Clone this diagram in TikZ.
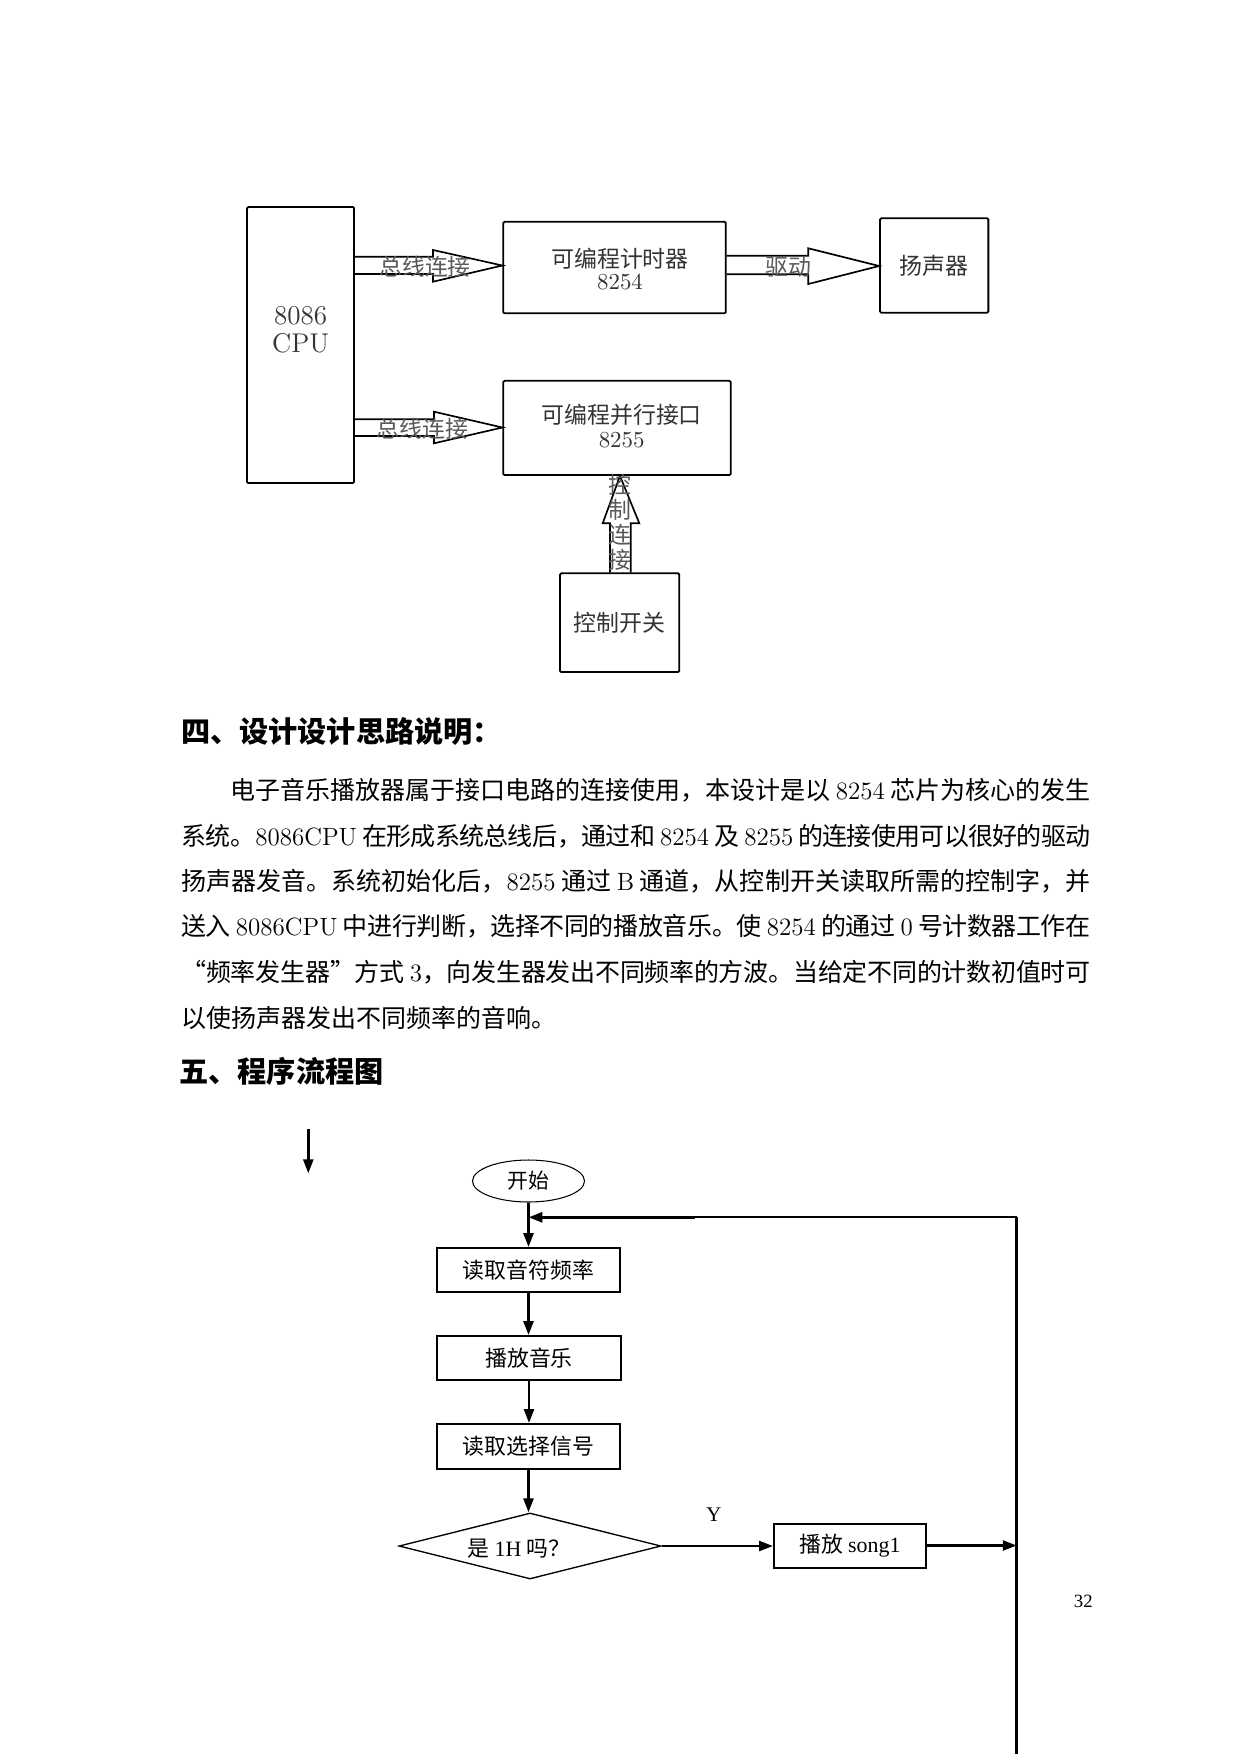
\documentclass[tikz,border=0pt]{standalone}
\usepackage{fontspec}
\setmainfont{Noto Sans CJK SC}
\newfontfamily\lat{Latin Modern Roman}
\newfontfamily\tms{Liberation Serif}
\usetikzlibrary{shapes.geometric,arrows.meta,calc}
\XeTeXlinebreaklocale "zh"
\XeTeXlinebreakskip=0pt plus 2pt minus 1.2pt
\newcommand\myline[4]{\node[anchor=west,inner sep=0pt,text width=#3,align=justify,font=\fontsize{12bp}{14bp}\selectfont] (#1) at (#2) {\noindent\tolerance=9999\parfillskip=0pt\relax #4\par};}
\tikzset{
  blk/.style={draw, line width=0.85bp, rounded corners=0.6bp, inner sep=0pt},
  fat/.style={draw, line width=0.8bp, line join=miter},
  boxtxt/.style={inner sep=0pt, text=black!80, align=center},
  lbl/.style={inner sep=0pt, text=black!65, font=\fontsize{11bp}{12bp}\selectfont},
  fbox/.style={draw, line width=0.96bp, minimum height=21.12bp, inner sep=0pt, font=\fontsize{10.5bp}{12bp}\selectfont},
  flow/.style={line width=1.2bp, -{Triangle[length=6.7bp,width=4.8bp]}},
  head/.style={anchor=west, inner sep=0pt, font=\fontsize{14bp}{16bp}\selectfont\bfseries}
}
\begin{document}
\begin{tikzpicture}[x=0.48bp,y=-0.48bp]
\useasboundingbox (0,0) rectangle (1241,1754);
\fill[white] (0,0) rectangle (1241,1754);

% ---------- block diagram ----------
\node[blk, minimum width=51.36bp, minimum height=132.48bp] (cpu) at (300.5,345) {};
\node[boxtxt, font=\fontsize{13bp}{13.4bp}\selectfont\lat] (cputxt) at (300.7,330) {8086\\CPU};
\node[blk, minimum width=106.75bp, minimum height=43.97bp] (timer) at (614.5,267.5) {};
\node[boxtxt, font=\fontsize{11bp}{10.6bp}\selectfont] (timertxt) at (620,269) {可编程计时器\\{\lat 8254}};
\node[blk, minimum width=52bp, minimum height=45.3bp, text=black!80, font=\fontsize{11bp}{12bp}\selectfont] (spk) at (934.2,265.5) {扬声器};
\node[blk, minimum width=109.15bp, minimum height=45.26bp] (ppi) at (617,427.9) {};
\node[boxtxt, font=\fontsize{11bp}{11.5bp}\selectfont] (ppitxt) at (621.7,426) {可编程并行接口\\{\lat 8255}};
\node[blk, minimum width=57.26bp, minimum height=47.38bp, text=black!80, font=\fontsize{11bp}{12bp}\selectfont] (sw) at (619.7,622.7) {控制开关};

\draw[fat] (cpu.east |- 0,256.7) -- (433,256.7) -- (433,250) -- (timer.west |- 0,265.5) -- (433,281.7) -- (433,274) -- (cpu.east |- 0,274);
\draw[fat] (cpu.east |- 0,419.3) -- (434,419.3) -- (434,411.7) -- (ppi.west |- 0,427.5) -- (434,443.3) -- (434,436) -- (cpu.east |- 0,436);
\draw[fat] (timer.east |- 0,255.7) -- (808.3,255.7) -- (808.3,248.3) -- (spk.west |- 0,266) -- (808.3,284) -- (808.3,274.3) -- (timer.east |- 0,274.3);
\draw[fat] (sw.north -| 610,0) -- (610,523.3) -- (602.7,523.3) -- (ppi.south -| 620,0) -- (639.3,523.3) -- (630.7,523.3) -- (sw.north -| 630.7,0);

\node[lbl] (l1) at (425,266.7) {总线连接};
\node[lbl] (l2) at (422.5,428.3) {总线连接};
\node[lbl] (l3) at (788,266.7) {驱动};
\node[lbl, align=center, font=\fontsize{11bp}{12bp}\selectfont] (l4) at (620,522.5) {控\\制\\连\\接};

% ---------- text ----------
\node[head] (h4) at (180.7,731.7) {四、设计设计思路说明：};
\myline{p1}{230,790}{412.8bp}{电子音乐播放器属于接口电路的连接使用，本设计是以 {\lat 8254} 芯片为核心的发生}
\myline{p2}{180.7,836}{436.5bp}{系统。{\lat 8086CPU} 在形成系统总线后，通过和 {\lat 8254} 及 {\lat 8255} 的连接使用可以很好的驱动}
\myline{p3}{180.7,881}{436.5bp}{扬声器发音。系统初始化后，{\lat 8255} 通过 {\lat B} 通道，从控制开关读取所需的控制字，并}
\myline{p4}{180.7,926.5}{436.5bp}{送入 {\lat 8086CPU} 中进行判断，选择不同的播放音乐。使 {\lat 8254} 的通过 {\lat 0} 号计数器工作在}
\myline{p5}{180.7,972}{436.5bp}{“频率发生器”方式 {\lat 3}，向发生器发出不同频率的方波。当给定不同的计数初值时可}
\node[anchor=west, inner sep=0pt, font=\fontsize{12bp}{14bp}\selectfont] (p6) at (180.7,1018) {以使扬声器发出不同频率的音响。};
\node[head] (h5) at (179,1071.7) {五、程序流程图};

% ---------- flowchart ----------
\coordinate (S1) at (308.3,1129.3);
\coordinate (S2) at (308.3,1173.3);
\draw[flow] (S1) -- (S2);

\node[draw, ellipse, line width=0.5bp, minimum width=53.76bp, minimum height=20.16bp, inner sep=0pt, font=\fontsize{10bp}{12bp}\selectfont] (start) at (528.5,1181) {开始};
\node[fbox, minimum width=87.84bp] (b1) at (528.5,1270) {读取音符频率};
\node[fbox, minimum width=88.3bp] (b2) at (529,1358) {播放音乐};
\node[fbox, minimum width=88bp, minimum height=21.6bp] (b3) at (528.5,1446.5) {读取选择信号};
\node[draw, diamond, line width=0.65bp, minimum width=125.76bp, minimum height=31.68bp, inner sep=0pt] (dia) at (530,1546) {};
\node[inner sep=0pt, font=\fontsize{10.5bp}{12bp}\selectfont] (diatxt) at (519,1549) {是 {\tms 1H} 吗？};
\node[fbox, minimum width=72.96bp] (s1) at (850,1545.5) {播放 {\tms song1}};
\node[inner sep=0pt, font=\fontsize{10bp}{12bp}\selectfont\tms] (ylab) at (714,1515) {Y};

\coordinate (R1) at (1016.7,1217.3);
\coordinate (R2) at (1016.7,1754);
\draw[line width=1.3bp] (R1) -- (R2);
\draw[flow] (start.south) -- (b1.north);
\draw[flow] (b1.south) -- (b1.south |- b2.north);
\draw[flow] (b2.south) -- (b2.south |- b3.north);
\draw[flow] (b3.south) -- (b3.south |- dia.north);
\draw[flow] (dia.east) -- (dia.east -| s1.west);
\draw[flow] (s1.east) -- (s1.east -| R1);
\draw[line width=0.96bp] (R1) -- (695,1217.3) coordinate (F0);
\draw[flow, line width=1.44bp] (F0) -- (start.south |- R1);

\node[inner sep=0pt, font=\fontsize{9bp}{11bp}\selectfont\tms] (pg) at (1083.3,1601.7) {32};
\end{tikzpicture}
\end{document}
